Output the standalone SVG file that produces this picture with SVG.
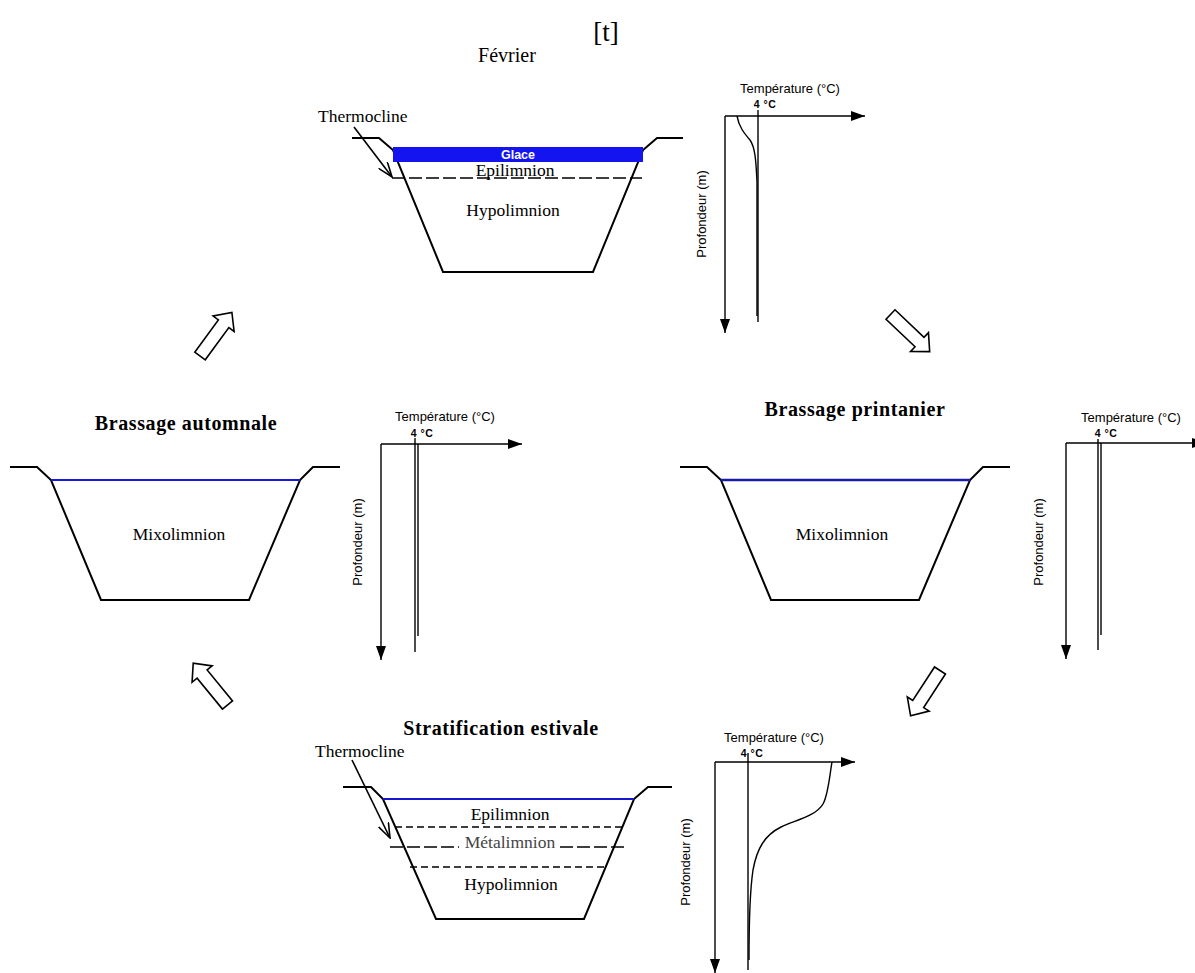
<svg xmlns="http://www.w3.org/2000/svg" width="1195" height="973" viewBox="0 0 1195 973">
<style>
.bg{fill:#ffffff}
.lake{fill:none;stroke:#000;stroke-width:2;stroke-linejoin:miter}
.serif{font-family:"Liberation Serif","Times New Roman",serif;fill:#000}
.lbl{font-size:17.5px;text-anchor:middle}
.ttl{font-size:20px;font-weight:bold;text-anchor:middle;letter-spacing:0.6px}
.sans{font-family:"Liberation Sans",Arial,sans-serif;fill:#000}
.axt{font-size:13px;text-anchor:middle}
.four{font-size:10.5px;font-weight:bold;text-anchor:middle;letter-spacing:0.5px}
.axis{fill:none;stroke:#000;stroke-width:1.4}
.prof{fill:none;stroke:#000;stroke-width:1.4}
.dash1{fill:none;stroke:#000;stroke-width:1.7;stroke-dasharray:13 4}
.dash2{fill:none;stroke:#000;stroke-width:1.7;stroke-dasharray:7 4}
.blk{fill:#fff;stroke:#000;stroke-width:1.6;stroke-linejoin:miter}
.therm{fill:none;stroke:#000;stroke-width:1.6}
</style>
<defs>
<marker id="axhead" viewBox="0 0 14 10" refX="14" refY="5" markerWidth="14" markerHeight="10" markerUnits="userSpaceOnUse" orient="auto">
<path d="M0,0 L14,5 L0,10 Z" fill="#000"/>
</marker>
<marker id="vhead" viewBox="0 0 16 12" refX="15" refY="6" markerWidth="16" markerHeight="12" markerUnits="userSpaceOnUse" orient="auto">
<path d="M0,0.5 L15,6 L0,11.5" fill="none" stroke="#000" stroke-width="1.6"/>
</marker>
<path id="blockarrow" d="M0,-6.5 L40,-6.5 L40,-13 L54,0 L40,13 L40,6.5 L0,6.5 Z"/>
</defs>
<rect class="bg" x="0" y="0" width="1195" height="973"/>

<text class="serif" x="606" y="41" font-size="27" text-anchor="middle">[t]</text>

<!-- Février -->
<g id="fevrier">
<text class="serif" x="507" y="62" font-size="20" text-anchor="middle">Février</text>
<path class="lake" d="M352,138 L379,138 L393,150 L443,272 L593,272 L643,150 L657,138 L683,138"/>
<rect x="393" y="147" width="250" height="15" fill="#1414f0"/>
<text class="sans" x="518" y="159" font-size="12.5" font-weight="bold" text-anchor="middle" style="fill:#fff">Glace</text>
<line class="dash1" x1="392" y1="178" x2="642" y2="178"/>
<text class="serif lbl" x="515" y="176">Epilimnion</text>
<text class="serif lbl" x="513" y="216">Hypolimnion</text>
<text class="serif" x="318" y="122" font-size="17.5">Thermocline</text>
<line class="therm" x1="354" y1="127" x2="392" y2="177" marker-end="url(#vhead)"/>
</g>
<g id="graph-fevrier">
<text class="sans axt" x="790" y="93">Température (°C)</text>
<text class="sans four" x="765" y="108">4 °C</text>
<line class="axis" x1="725" y1="116" x2="865" y2="116" marker-end="url(#axhead)"/>
<line class="axis" x1="725" y1="116" x2="725" y2="333" marker-end="url(#axhead)"/>
<line class="prof" x1="758" y1="110" x2="758" y2="322"/>
<path class="prof" d="M737,116 C739,127 744,133 750,140 C755,147 756,160 757,182 L757,316"/>
<text class="sans axt" transform="translate(706,214) rotate(-90)">Profondeur (m)</text>
</g>

<!-- Brassage automnale -->
<g id="automne">
<text class="serif ttl" x="186" y="430">Brassage automnale</text>
<path class="lake" d="M10,467 L37,467 L51,480 L101,600 L249,600 L300,480 L313,467 L340,467"/>
<line x1="51" y1="480" x2="300" y2="480" stroke="#1818e0" stroke-width="2"/>
<text class="serif lbl" x="179" y="540">Mixolimnion</text>
</g>
<g id="graph-automne">
<text class="sans axt" x="445" y="421">Température (°C)</text>
<text class="sans four" x="422" y="437">4 °C</text>
<line class="axis" x1="381" y1="444" x2="522" y2="444" marker-end="url(#axhead)"/>
<line class="axis" x1="381" y1="444" x2="381" y2="660" marker-end="url(#axhead)"/>
<line class="prof" x1="415" y1="438" x2="415" y2="652"/>
<line class="prof" x1="418" y1="444" x2="418" y2="636"/>
<text class="sans axt" transform="translate(362,542) rotate(-90)">Profondeur (m)</text>
</g>

<!-- Brassage printanier -->
<g id="printemps">
<text class="serif ttl" x="855" y="416">Brassage printanier</text>
<path class="lake" d="M680,467 L707,467 L721,480 L771,600 L919,600 L970,480 L983,467 L1010,467"/>
<line x1="721" y1="480" x2="970" y2="480" stroke="#1a1aa8" stroke-width="2.4"/>
<text class="serif lbl" x="842" y="540">Mixolimnion</text>
</g>
<g id="graph-printemps">
<text class="sans axt" x="1131" y="422">Température (°C)</text>
<text class="sans four" x="1106" y="437">4 °C</text>
<line class="axis" x1="1066" y1="443" x2="1206" y2="443" marker-end="url(#axhead)"/>
<line class="axis" x1="1066" y1="443" x2="1066" y2="659" marker-end="url(#axhead)"/>
<line class="prof" x1="1098" y1="439" x2="1098" y2="650"/>
<line class="prof" x1="1101" y1="443" x2="1101" y2="635"/>
<text class="sans axt" transform="translate(1043,542) rotate(-90)">Profondeur (m)</text>
</g>

<!-- Stratification estivale -->
<g id="ete">
<text class="serif ttl" x="501" y="735">Stratification estivale</text>
<path class="lake" d="M343,787 L371,787 L383,799 L436,919 L584,919 L634,799 L648,787 L672,787"/>
<line x1="383" y1="799" x2="634" y2="799" stroke="#1818d0" stroke-width="2"/>
<line class="dash2" x1="395" y1="827" x2="623" y2="827"/>
<line class="dash1" x1="390" y1="847" x2="627" y2="847"/>
<line class="dash2" x1="410" y1="867" x2="607" y2="867"/>
<rect x="459" y="836" width="97" height="16" fill="#fff"/>
<text class="serif lbl" x="510" y="820">Epilimnion</text>
<text class="serif lbl" x="510" y="848" style="fill:#444">Métalimnion</text>
<text class="serif lbl" x="511" y="890">Hypolimnion</text>
<text class="serif" x="315" y="757" font-size="17.5">Thermocline</text>
<line class="therm" x1="352" y1="760" x2="390" y2="838" marker-end="url(#vhead)"/>
</g>
<g id="graph-ete">
<text class="sans axt" x="774" y="742">Température (°C)</text>
<text class="sans four" x="752" y="757">4 °C</text>
<line class="axis" x1="715" y1="762" x2="855" y2="762" marker-end="url(#axhead)"/>
<line class="axis" x1="715" y1="762" x2="715" y2="973" marker-end="url(#axhead)"/>
<line class="prof" x1="748" y1="753" x2="748" y2="970"/>
<path class="prof" d="M832,762 C829,780 828,795 823,804 C816,816 796,820 781,827 C765,835 757,848 753,870 C750,890 749,920 749,960"/>
<text class="sans axt" transform="translate(690,862) rotate(-90)">Profondeur (m)</text>
</g>

<!-- cycle arrows -->
<g id="connectors">
<use href="#blockarrow" class="blk" transform="translate(200,356) rotate(-53.8)"/>
<use href="#blockarrow" class="blk" transform="translate(890.5,314.5) rotate(43.5)"/>
<use href="#blockarrow" class="blk" transform="translate(940,670.5) rotate(123)"/>
<use href="#blockarrow" class="blk" transform="translate(227.5,705) rotate(-129.4)"/>
</g>
</svg>
